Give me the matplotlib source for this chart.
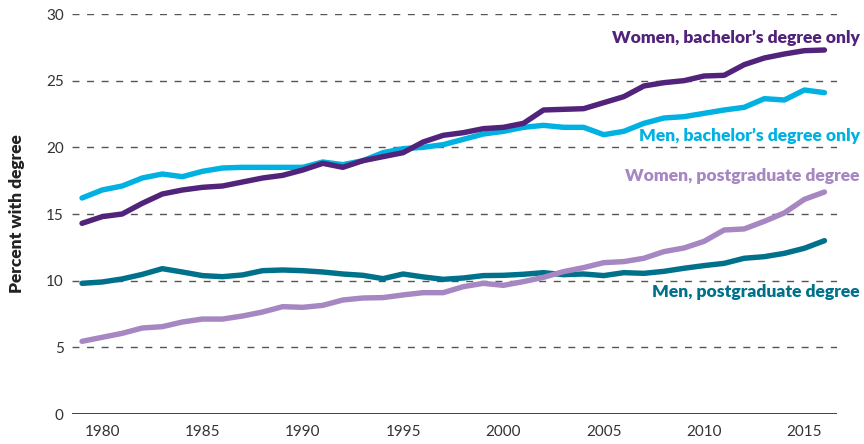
import matplotlib
matplotlib.use("Agg")
import matplotlib.pyplot as plt

years = list(range(1979, 2017))

women_bachelor = [14.3, 14.8, 15.0, 15.8, 16.5, 16.8, 17.0, 17.1, 17.4, 17.7,
                  17.9, 18.3, 18.8, 18.5, 19.0, 19.3, 19.6, 20.4, 20.9, 21.1,
                  21.4, 21.5, 21.8, 22.8, 22.85, 22.9, 23.35, 23.8, 24.6, 24.85,
                  25.0, 25.35, 25.4, 26.2, 26.7, 27.0, 27.25, 27.3]
men_bachelor = [16.2, 16.8, 17.1, 17.7, 18.0, 17.8, 18.2, 18.45, 18.5, 18.5,
                18.5, 18.5, 18.9, 18.7, 19.0, 19.6, 19.9, 20.0, 20.2, 20.6,
                21.0, 21.2, 21.5, 21.65, 21.5, 21.5, 20.95, 21.2, 21.8, 22.2,
                22.3, 22.55, 22.8, 23.0, 23.65, 23.55, 24.3, 24.1]
women_postgrad = [5.45, 5.75, 6.05, 6.45, 6.55, 6.9, 7.12, 7.12, 7.35, 7.65,
                  8.05, 8.0, 8.15, 8.55, 8.7, 8.73, 8.93, 9.1, 9.1, 9.55,
                  9.8, 9.65, 9.93, 10.25, 10.68, 10.98, 11.35, 11.43, 11.68, 12.18,
                  12.45, 12.95, 13.8, 13.88, 14.45, 15.08, 16.1, 16.65]
men_postgrad = [9.8, 9.9, 10.13, 10.47, 10.9, 10.65, 10.38, 10.3, 10.43, 10.75,
                10.8, 10.75, 10.65, 10.5, 10.4, 10.15, 10.5, 10.28, 10.1, 10.2,
                10.38, 10.4, 10.48, 10.6, 10.45, 10.5, 10.38, 10.6, 10.55, 10.7,
                10.93, 11.13, 11.3, 11.68, 11.8, 12.05, 12.43, 13.0]

series_names = ["Women, bachelor\u2019s degree only", "Men, bachelor\u2019s degree only",
                "Women, postgraduate degree", "Men, postgraduate degree"]
series_colors = ["#52237a", "#00b1e1", "#a687c1", "#00718a"]
label_y = [28.2, 20.85, 17.85, 9.15]

x_ticks = [1980, 1985, 1990, 1995, 2000, 2005, 2010, 2015]
y_ticks = [0, 5, 10, 15, 20, 25, 30]

plt.rcParams['font.family'] = ['Lato', 'DejaVu Sans']

fig = plt.figure(figsize=(8.64, 4.44), dpi=100)
ax = fig.add_axes([72/864, 1-414/444, (836.5-72)/864, 400/444])

data = [women_bachelor, men_bachelor, women_postgrad, men_postgrad]
for idx in [3, 2, 1, 0]:
    ax.plot(years, data[idx], color=series_colors[idx], lw=3.9,
            solid_capstyle='round', solid_joinstyle='round', zorder=3)

for i, name in enumerate(series_names):
    ax.text(2017.75, label_y[i], name, color=series_colors[i], ha='right', va='center',
            fontsize=12.6, fontweight='heavy', clip_on=False)

ax.set_xlim(1978.5, 2016.6)
ax.set_ylim(0, 30)
ax.set_xticks(x_ticks)
ax.set_yticks(y_ticks)
for yv in y_ticks[1:]:
    ax.axhline(yv, color='#555555', lw=1.0, ls=(0, (5, 5.5)), zorder=1)
ax.axhline(0, color='#333333', lw=1.3, zorder=2)

for s in ax.spines.values():
    s.set_visible(False)
ax.tick_params(axis='both', length=0, labelsize=11, colors='#333333')
ax.tick_params(axis='y', pad=6)
ax.tick_params(axis='x', pad=8)
ax.set_ylabel("Percent with degree", fontsize=12.5, fontweight='heavy', color='#222222', labelpad=15)

fig.savefig("out.png", dpi=100)
